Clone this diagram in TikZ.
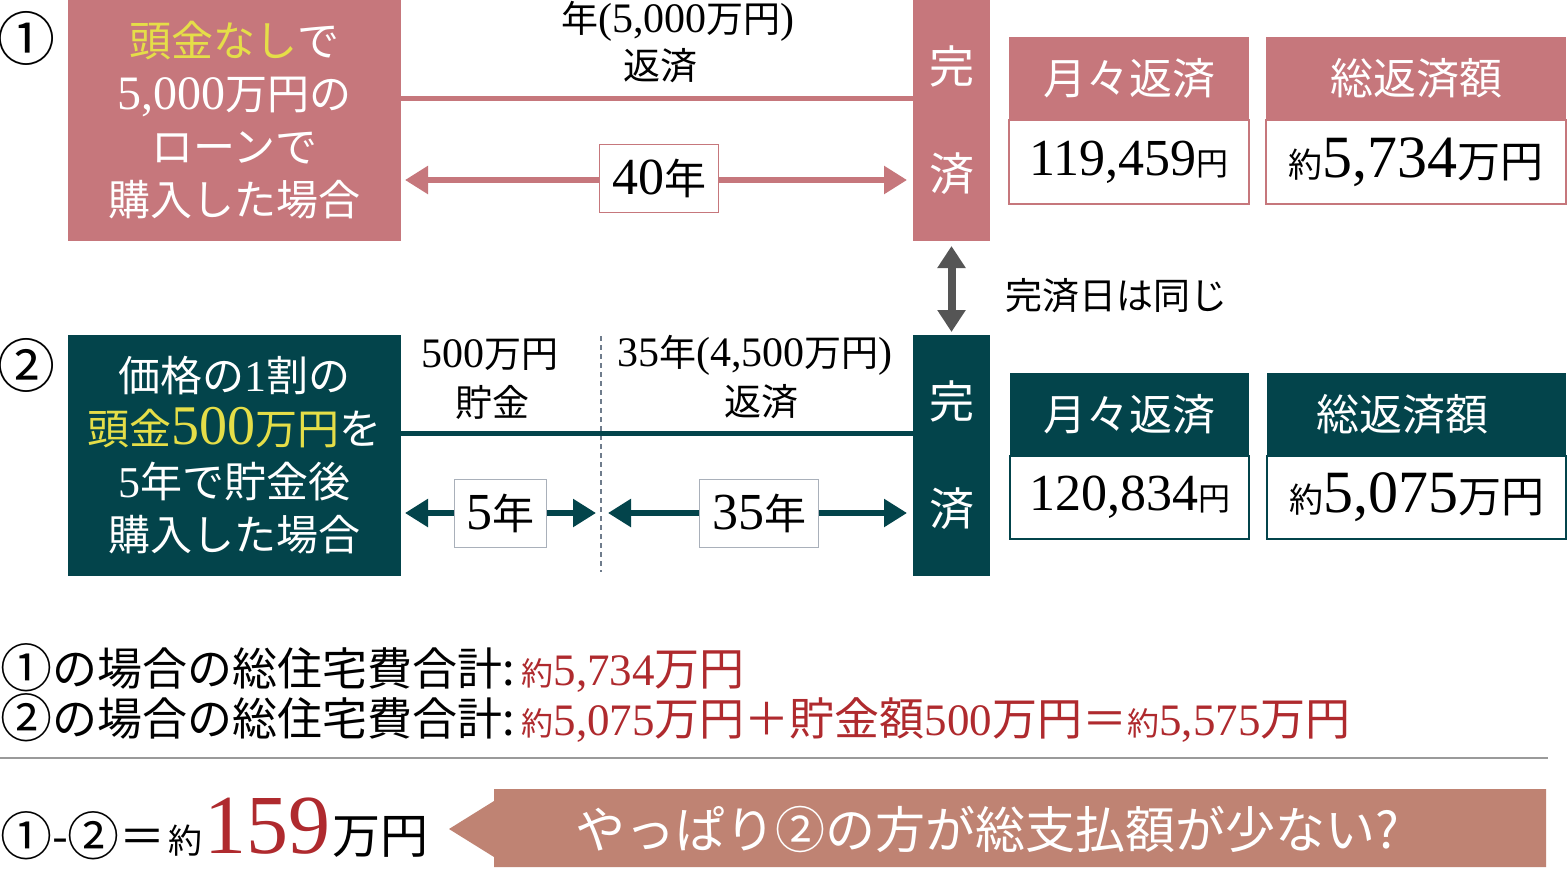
\documentclass[tikz,border=0pt]{standalone}
\usepackage{fontspec}
\usepackage{graphicx}
\setmainfont{Noto Sans CJK JP}
\newfontfamily\numfont{Liberation Serif}
\usetikzlibrary{arrows.meta}
\definecolor{pinkc}{HTML}{C6777C}
\definecolor{tealc}{HTML}{03444B}
\definecolor{yellowc}{HTML}{E5DE48}
\definecolor{redc}{HTML}{AF2A2E}
\definecolor{bannerc}{HTML}{BF8373}
\definecolor{arrowgray}{HTML}{555555}
\definecolor{dashc}{HTML}{6F7C8C}
\definecolor{rulec}{HTML}{9A9A9A}
\newcommand\myfs[1]{\fontsize{#1}{#1}\selectfont}
\newcommand\nm[2]{{\numfont\fontsize{#1}{53}\selectfont #2}}
\newcommand\circnum[2]{\raisebox{-0.06em}{\fontsize{#1}{#1}\selectfont #2}}
\begin{document}
\begin{tikzpicture}[x=1pt,y=-1pt,
  >={Triangle[length=23pt,width=27pt]},
  blk/.style={inner sep=0pt, outer sep=0pt, anchor=north west},
  lbl/.style={inner sep=0pt, outer sep=0pt},
  casebox/.style={blk, minimum width=333pt, minimum height=241pt, text=white, align=center, font=\fontsize{42}{53}\selectfont},
  donebar/.style={blk, minimum width=77pt, minimum height=241pt, text=white, align=center, font=\fontsize{45}{107}\selectfont},
  hdr/.style={blk, minimum height=83pt, text=white, font=\myfs{43}},
  valbox/.style={blk, minimum height=84pt, fill=white, line width=1.2pt, font=\myfs{34}},
  yrbox/.style={lbl, fill=white, line width=1pt, minimum height=68pt, font=\myfs{42}},
  midtxt/.style={lbl, font=\myfs{37}},
]
\fill[white] (0,0) rectangle (1568,868);
\useasboundingbox (0,0) rectangle (1568,868);

% ---------- case 1 ----------
\node[lbl, font=\myfs{58}] (n1) at (27,38) {①};
\node[casebox, fill=pinkc] (case1) at (68,0) {{\color{yellowc}頭金なし}で\\\nm{48}{5,000}万円の\\ローンで\\購入した場合};
\node[donebar, fill=pinkc] (done1) at (913,0) {完\\済};
\node[midtxt] (t1a) at (678,21) {年\nm{42}{(5,000}万円\nm{42}{)}};
\node[midtxt] (t1b) at (660,66) {返済};
\draw[pinkc, line width=5pt] ([yshift=22.5pt]case1.east) -- ([yshift=22.5pt]done1.west);
\draw[pinkc, line width=5.5pt, <->] ([xshift=4pt,yshift=-59.5pt]case1.east) -- ([xshift=-6pt,yshift=-59.5pt]done1.west);
\node[yrbox, draw=pinkc, minimum width=119pt] (y40) at (659,178) {\nm{52}{40}年};

\node[hdr, fill=pinkc, minimum width=240pt] (h1a) at (1009,37) {月々返済};
\node[valbox, draw=pinkc, minimum width=240pt] (v1a) at (1009,120) {\raisebox{-4pt}{\nm{52}{119,459}{\myfs{32}円}}};
\node[hdr, fill=pinkc, minimum width=300pt] (h1b) at (1266,37) {総返済額};
\node[valbox, draw=pinkc, minimum width=300pt] (v1b) at (1266,120) {\raisebox{-4pt}{{\myfs{34}約}\nm{60}{5,734}{\myfs{43}万円}}};

% ---------- case 2 ----------
\node[lbl, font=\myfs{58}] (n2) at (27,365) {②};
\node[casebox, fill=tealc] (case2) at (68,335) {価格の\nm{44}{1}割の\\{\color{yellowc}頭金\nm{56}{500}万円}を\\\nm{44}{5}年で貯金後\\購入した場合};
\node[donebar, fill=tealc] (done2) at (913,335) {完\\済};
\node[midtxt] (t2a) at (490,355) {\nm{42}{500}万円};
\node[midtxt] (t2b) at (492,402) {貯金};
\node[midtxt] (t2c) at (755,355) {\nm{42}{35}年\nm{42}{(4,500}万円\nm{42}{)}};
\node[midtxt] (t2d) at (761,402) {返済};

\coordinate (dtop) at (601,336);
\coordinate (dbot) at (601,572);
\draw[dashc, line width=1.5pt, dash pattern=on 5pt off 4pt] (dtop) -- (dbot);
\draw[tealc, line width=5pt] ([yshift=22.5pt]case2.east) -- ([yshift=22.5pt]done2.west);
\coordinate (split) at (601,513);
\draw[tealc, line width=5.5pt, <->] ([xshift=4pt,yshift=-57.5pt]case2.east) -- ([xshift=-5pt]split);
\draw[tealc, line width=5.5pt, <->] ([xshift=7pt]split) -- ([xshift=-6pt,yshift=-57.5pt]done2.west);
\node[yrbox, draw=dashc!60, minimum width=92pt] (y5) at (500,513) {\nm{52}{5}年};
\node[yrbox, draw=dashc!60, minimum width=119pt] (y35) at (759,513) {\nm{52}{35}年};

\node[hdr, fill=tealc, minimum width=239pt] (h2a) at (1010,373) {月々返済};
\node[valbox, draw=tealc, minimum width=239pt, minimum height=83pt] (v2a) at (1010,456) {\raisebox{-4pt}{\nm{52}{120,834}{\myfs{32}円}}};
\node[hdr, fill=tealc, minimum width=299pt] (h2b) at (1267,373) {総返済額\hspace*{28pt}};
\node[valbox, draw=tealc, minimum width=299pt, minimum height=83pt] (v2b) at (1267,456) {\raisebox{-4pt}{{\myfs{34}約}\nm{60}{5,075}{\myfs{43}万円}}};

% ---------- same completion date ----------
\draw[arrowgray, line width=8pt, <->, >={Triangle[length=22pt,width=27pt]}] ([yshift=-5pt]done1.south) -- ([yshift=3pt]done2.north);
\node[lbl, anchor=west, font=\myfs{37}] (same) at (1005,296) {完済日は同じ};

% ---------- summary ----------
\node[lbl, anchor=base west, font=\myfs{45}] (sum1) at (0,685) {\circnum{52}{①}の場合の総住宅費合計:\hspace{7pt}{\color{redc}{\myfs{32}約}\nm{45}{5,734}万円}};
\node[lbl, anchor=base west, font=\myfs{45}] (sum2) at (0,735) {\circnum{52}{②}の場合の総住宅費合計:\hspace{7pt}{\color{redc}{\myfs{32}約}\nm{45}{5,075}万円＋貯金額\nm{45}{500}万円＝{\myfs{32}約}\nm{45}{5,575}万円}};
\coordinate (r0) at (0,758);
\coordinate (r1) at (1548,758);
\draw[rulec, line width=1.5pt] (r0) -- (r1);

\node[lbl, anchor=base west, font=\myfs{46}] (diff) at (0,853) {\circnum{52}{①}-\circnum{52}{②}＝\hspace{3pt}{\myfs{34}約}\hspace{2pt}{\color{redc}\nm{84}{159}}\hspace{2pt}{\myfs{48}万円}};
\path[fill=bannerc] (494,789) -- (1546,789) -- (1546,867) -- (494,867) -- (494,857) -- (449,829) -- (494,801) -- cycle;
\node[lbl, text=white, font=\myfs{50}] (msg) at (987,829) {やっぱり②の方が総支払額が少ない?};
\end{tikzpicture}
\end{document}
